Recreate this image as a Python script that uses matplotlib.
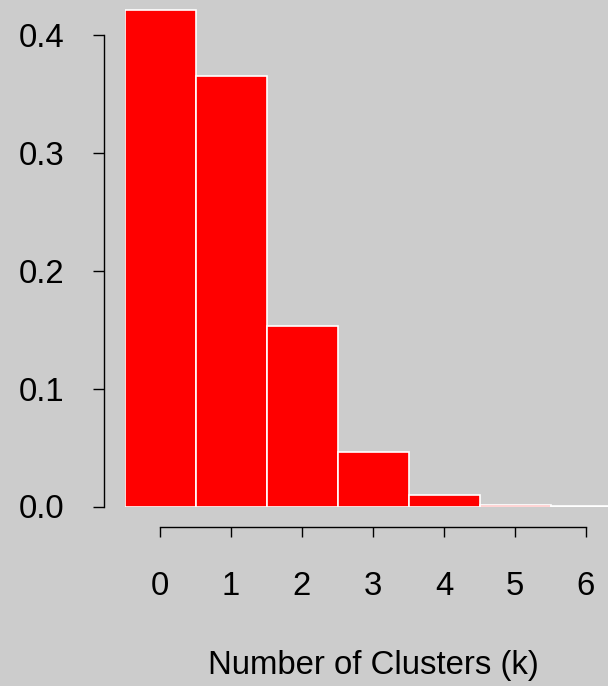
import matplotlib
matplotlib.use("Agg")
import matplotlib.pyplot as plt
import numpy as np

plt.rcParams['font.family'] = ['Liberation Sans', 'DejaVu Sans']

# cluster counts and their probabilities
k = [0, 1, 2, 3, 4, 5, 6]
prob = [0.421, 0.365, 0.153, 0.0465, 0.010, 0.0016, 0.0003]
yticks = [0.0, 0.1, 0.2, 0.3, 0.4]
ytick_labels = ["0.0", "0.1", "0.2", "0.3", "0.4"]

W, H = 608, 686
bg = '#cccccc'
fig = plt.figure(figsize=(W / 100, H / 100), dpi=100, facecolor=bg)

# axes placed in pixels: x=-0.5 at 124.5 px, 71 px per unit; y=0 at 506.5 px
left_px, base_px = 124.5, 506.5
px_per_x, px_per_y = 71.0, 1178.75
ax = fig.add_axes([left_px / W, (H - base_px) / H, (W - left_px) / W, base_px / H])
ax.set_facecolor(bg)
ax.set_xlim(-0.5, -0.5 + (W - left_px) / px_per_x)
ax.set_ylim(0, base_px / px_per_y)

ax.bar(k, prob, width=1.0, color='red', edgecolor='white', linewidth=1.2)

for s in ['top', 'right']:
    ax.spines[s].set_visible(False)
ax.spines['left'].set_position(('outward', 14.5))
ax.spines['bottom'].set_position(('outward', 14.5))
ax.spines['left'].set_bounds(0, 0.4)
ax.spines['bottom'].set_bounds(0, 6)
ax.spines['left'].set_linewidth(1.0)
ax.spines['bottom'].set_linewidth(1.0)

ax.set_xticks(k)
ax.set_xticklabels([str(v) for v in k])
ax.set_yticks(yticks)
ax.set_yticklabels(ytick_labels)
ax.tick_params(axis='y', length=8, width=1.0, pad=21, labelsize=23.7)
ax.tick_params(axis='x', length=7.2, width=1.0, pad=25, labelsize=23.7)

fig.text(373 / W, 1 - 674 / H, "Number of Clusters (k)", ha='center',
         va='baseline', fontsize=23.7)

fig.savefig("out.png", dpi=100, facecolor=bg)
